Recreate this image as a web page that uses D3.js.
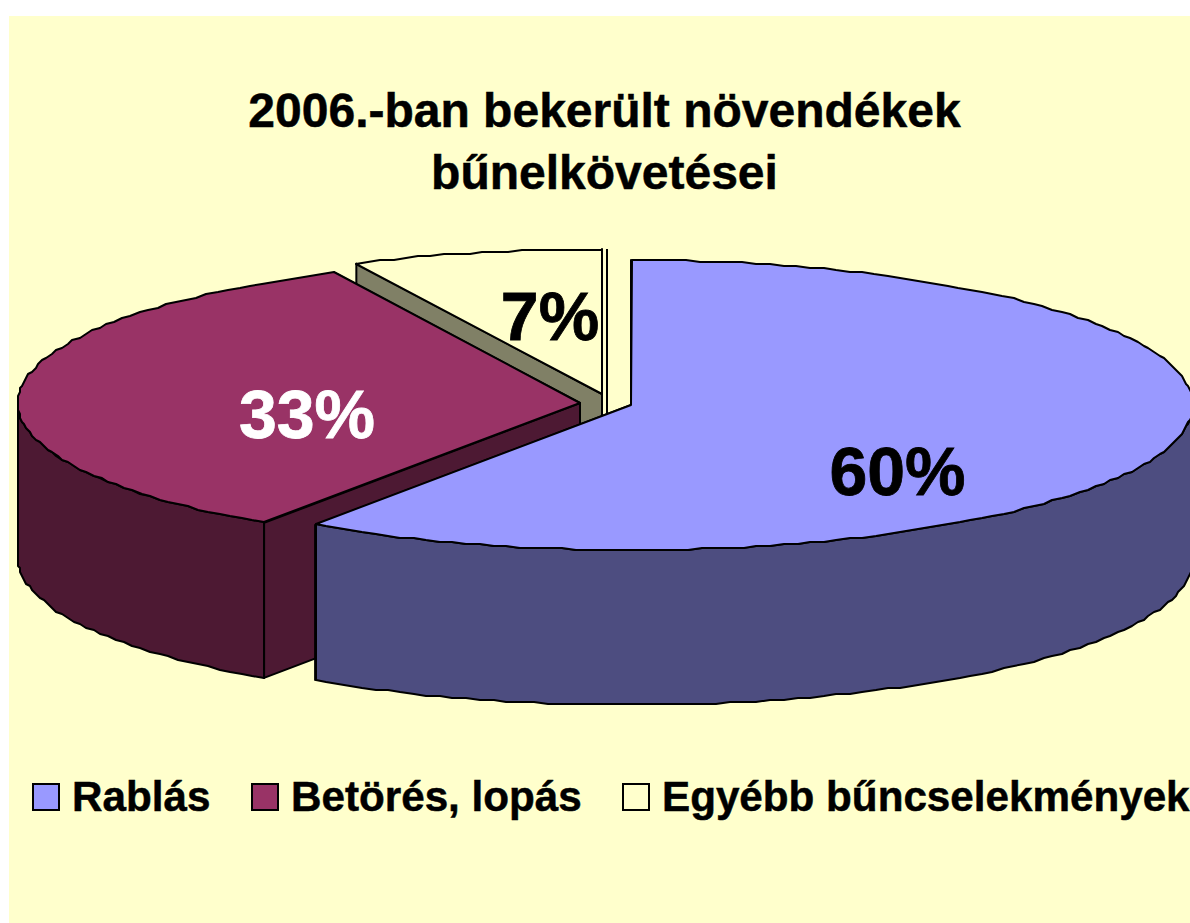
<!DOCTYPE html>
<html><head><meta charset="utf-8">
<script src="https://cdnjs.cloudflare.com/ajax/libs/d3/7.8.5/d3.min.js"></script>
<style>html,body{margin:0;padding:0;background:#fff}svg{display:block}text{font-family:"Liberation Sans",Arial,sans-serif;font-weight:bold}</style>
</head><body><svg id="c" width="1190" height="923"></svg>
<script>
const categories = ["Rablás", "Betörés, lopás", "Egyébb bűncselekmények"];
const values = [59.5, 33.3, 7.2];
const topColors = ["#9999FF", "#993366", "#FFFFCC"];
const wallColors = ["#4D4D80", "#4D1933", "#FFFFCC"];
const cutColors = ["#4D4D80", "#4D1933", "#808066"];
const titleLines = ["2006.-ban bekerült növendékek", "bűnelkövetései"];

const W = 1190, H = 923;
const svg = d3.select("#c");
svg.append("rect").attr("x", 9).attr("y", 16).attr("width", W - 9).attr("height", H - 16).attr("fill", "#FFFFCC");

const rx = 562, ry = 145, depth = 155;
const centers = [{x: 631, y: 405}, {x: 580, y: 403}, {x: 602, y: 394}];
const labelPos = [{x: 897.5, y: 495, c: "#000"}, {x: 307, y: 438, c: "#fff"}, {x: 550, y: 340, c: "#000"}];
const arcs = d3.pie().sort(null).value(d => d)(values);
const grid = 2;
const snap = v => Math.round(v / grid) * grid;
const pt = (c, a, dz = 0) => [c.x + rx * Math.sin(a), c.y - ry * Math.cos(a) + dz];
const rim = (c, a, dz = 0) => { const p = pt(c, a, dz); return [snap(p[0]), snap(p[1])]; };
const samples = (a0, a1) => d3.range(0, 1.0001, 1 / Math.max(2, Math.ceil(Math.abs(a1 - a0) * 40))).map(t => a0 + (a1 - a0) * t);
const line = d3.line();
const S = "#000", SW = 2;

function poly(points, fill, close = true) {
  svg.append("path").attr("d", line(points) + (close ? "Z" : ""))
    .attr("fill", fill).attr("stroke", S).attr("stroke-width", SW).attr("stroke-linejoin", "round");
}
function drawSlice(i) {
  const c = centers[i], a = arcs[i], s = a.startAngle, e = a.endAngle;
  const bottom = {x: c.x, y: c.y + depth};
  // flat cut faces: the end face sits behind the start face
  poly([[c.x, c.y], pt(c, e), pt(c, e, depth), [bottom.x, bottom.y]], cutColors[i]);
  poly([[c.x, c.y], pt(c, s), pt(c, s, depth), [bottom.x, bottom.y]], cutColors[i]);
  // outer curved wall, only the front half (PI/2 .. 3PI/2) is visible
  const w0 = Math.max(s, Math.PI / 2), w1 = Math.min(e, 3 * Math.PI / 2);
  if (w1 > w0) {
    const sa = samples(w0, w1);
    poly(sa.map(t => rim(c, t)).concat(sa.slice().reverse().map(t => rim(c, t, depth))), wallColors[i]);
  }
  // top
  poly([[c.x, c.y]].concat(samples(s, e).map(t => rim(c, t))), topColors[i]);
}
// yellow first, then red, blue in front
drawSlice(2);
svg.append("line").attr("x1", centers[2].x + 5).attr("x2", centers[2].x + 5)
  .attr("y1", centers[2].y - ry).attr("y2", centers[2].y + depth).attr("stroke", S).attr("stroke-width", SW);
drawSlice(1);
drawSlice(0);

const fmt = d3.format(".0f");
values.forEach((v, i) => {
  svg.append("text").attr("x", labelPos[i].x).attr("y", labelPos[i].y).attr("text-anchor", "middle")
    .attr("font-size", 68).attr("fill", labelPos[i].c).attr("stroke", labelPos[i].c).attr("stroke-width", 0.8).text(fmt(v) + "%");
});

titleLines.forEach((t, i) => {
  svg.append("text").attr("x", 604.5).attr("y", 127 + i * 62).attr("text-anchor", "middle")
    .attr("font-size", 48).attr("fill", "#000").attr("stroke", "#000").attr("stroke-width", 0.5).text(t);
});

const legendX = [33, 252, 623];
categories.forEach((t, i) => {
  svg.append("rect").attr("x", legendX[i]).attr("y", 784).attr("width", 26).attr("height", 26)
    .attr("fill", topColors[i]).attr("stroke", S).attr("stroke-width", 2);
  svg.append("text").attr("x", legendX[i] + 39).attr("y", 811).attr("font-size", 42.2).attr("fill", "#000").attr("stroke", "#000").attr("stroke-width", 0.5).text(t);
});
</script></body></html>
